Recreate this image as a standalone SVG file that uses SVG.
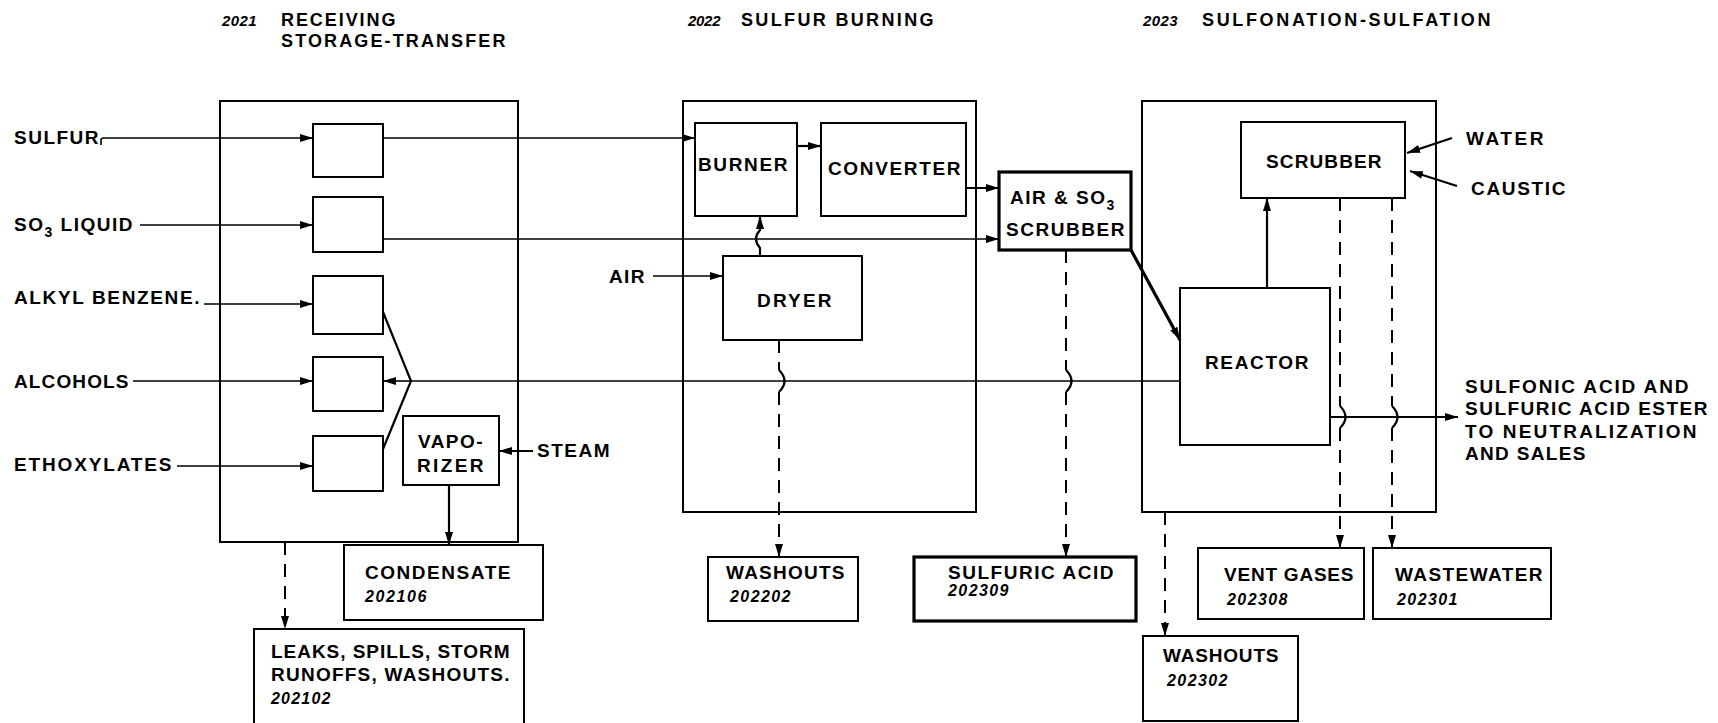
<svg xmlns="http://www.w3.org/2000/svg" width="1718" height="723" viewBox="0 0 1718 723">
<style>
text{font-family:"Liberation Sans",Arial,sans-serif;font-weight:bold;font-size:19px;fill:#000;letter-spacing:1.5px}
.ttl{font-size:18px}
.num{font-style:italic;font-size:16px;letter-spacing:0.5px}
.tnum{font-style:italic;font-size:15px;letter-spacing:0.5px}
.box{fill:none;stroke:#000;stroke-width:2}
.thick{fill:none;stroke:#000;stroke-width:3.2}
.ln{fill:none;stroke:#000;stroke-width:1.6}
.lnb{fill:none;stroke:#000;stroke-width:2.2}
.dash{fill:none;stroke:#000;stroke-width:2;stroke-dasharray:13 9}
</style>
<defs>
<marker id="ah" viewBox="0 0 13 8" refX="13" refY="4" markerWidth="13" markerHeight="8" orient="auto" markerUnits="userSpaceOnUse"><path d="M0,0 L13,4 L0,8 z" fill="#000"/></marker>
</defs>
<rect width="1718" height="723" fill="#fff"/>

<g id="titles">
<text class="tnum" x="222" y="26" textLength="35">2021</text>
<text class="ttl" x="281" y="26" textLength="116">RECEIVING</text>
<text class="ttl" x="281" y="47" textLength="226">STORAGE-TRANSFER</text>
<text class="tnum" x="688" y="26" textLength="33">2022</text>
<text class="ttl" x="741" y="26" textLength="194">SULFUR BURNING</text>
<text class="tnum" x="1143" y="26" textLength="35">2023</text>
<text class="ttl" x="1202" y="26" textLength="290">SULFONATION-SULFATION</text>
</g>

<g id="area2021"><rect class="box" x="220" y="101" width="298" height="441"/></g>
<g id="area2022"><rect class="box" x="683" y="101" width="293" height="411"/></g>
<g id="area2023"><rect class="box" x="1142" y="101" width="294" height="411"/></g>

<g id="tank1"><rect class="box" x="313" y="124" width="70" height="53"/></g>
<g id="tank2"><rect class="box" x="313" y="197" width="70" height="55"/></g>
<g id="tank3"><rect class="box" x="313" y="276" width="70" height="58"/></g>
<g id="tank4"><rect class="box" x="313" y="357" width="70" height="54"/></g>
<g id="tank5"><rect class="box" x="313" y="436" width="70" height="55"/></g>

<g id="inputs">
<text x="14" y="144" textLength="86">SULFUR</text>
<text x="14" y="231">SO<tspan dy="6" font-size="14">3</tspan><tspan dy="-6"> LIQUID</tspan></text>
<text x="14" y="304" textLength="187">ALKYL BENZENE.</text>
<text x="14" y="388" textLength="116">ALCOHOLS</text>
<text x="14" y="471" textLength="159">ETHOXYLATES</text>
<text x="537" y="457" textLength="74">STEAM</text>
<text x="609" y="283" textLength="37">AIR</text>
<text x="1466" y="145" textLength="79">WATER</text>
<text x="1471" y="195" textLength="96">CAUSTIC</text>
</g>

<g id="vaporizer">
<rect class="box" x="403" y="416" width="96" height="69"/>
<text x="451" y="448" text-anchor="middle" textLength="66">VAPO-</text>
<text x="451" y="472" text-anchor="middle" textLength="68">RIZER</text>
</g>

<g id="condensate">
<rect class="box" x="344" y="545" width="199" height="75"/>
<text x="365" y="579" textLength="147">CONDENSATE</text>
<text class="num" x="365" y="602" textLength="62">202106</text>
</g>

<g id="leaks">
<path class="box" d="M254,724 V629 H524 V724"/>
<text x="271" y="658" textLength="240">LEAKS, SPILLS, STORM</text>
<text x="271" y="681" textLength="240">RUNOFFS, WASHOUTS.</text>
<text class="num" x="271" y="704" textLength="60">202102</text>
</g>

<g id="burner">
<rect class="box" x="695" y="123" width="102" height="93"/>
<text x="698" y="171" textLength="91">BURNER</text>
</g>
<g id="converter">
<rect class="box" x="821" y="123" width="145" height="93"/>
<text x="828" y="175" textLength="134">CONVERTER</text>
</g>
<g id="airso3scrubber">
<rect class="thick" x="999" y="172" width="132" height="78"/>
<text x="1010" y="204" letter-spacing="1">AIR &amp; SO<tspan dy="6" font-size="14">3</tspan></text>
<text x="1006" y="236" textLength="120">SCRUBBER</text>
</g>
<g id="dryer">
<rect class="box" x="723" y="256" width="139" height="84"/>
<text x="757" y="307" textLength="76">DRYER</text>
</g>
<g id="washouts2022">
<rect class="box" x="708" y="557" width="150" height="64"/>
<text x="726" y="579" textLength="120">WASHOUTS</text>
<text class="num" x="730" y="602" textLength="61">202202</text>
</g>
<g id="sulfuricacid">
<rect class="thick" x="914" y="557" width="222" height="64"/>
<text x="948" y="579" textLength="167">SULFURIC ACID</text>
<text class="num" x="948" y="596" textLength="61">202309</text>
</g>

<g id="scrubber">
<rect class="box" x="1241" y="122" width="164" height="76"/>
<text x="1266" y="168" textLength="117">SCRUBBER</text>
</g>
<g id="reactor">
<rect class="box" x="1180" y="288" width="150" height="157"/>
<text x="1205" y="369" textLength="105">REACTOR</text>
</g>
<g id="product">
<text x="1465" y="393" textLength="225">SULFONIC ACID AND</text>
<text x="1465" y="415" textLength="244">SULFURIC ACID ESTER</text>
<text x="1465" y="438" textLength="233">TO NEUTRALIZATION</text>
<text x="1465" y="460" textLength="122">AND SALES</text>
</g>
<g id="ventgases">
<rect class="box" x="1198" y="548" width="166" height="71"/>
<text x="1224" y="581" textLength="131">VENT GASES</text>
<text class="num" x="1227" y="605" textLength="61">202308</text>
</g>
<g id="wastewater">
<rect class="box" x="1373" y="548" width="178" height="71"/>
<text x="1395" y="581" textLength="149">WASTEWATER</text>
<text class="num" x="1397" y="605" textLength="61">202301</text>
</g>
<g id="washouts2023">
<rect class="box" x="1143" y="636" width="155" height="85"/>
<text x="1163" y="662" textLength="117">WASHOUTS</text>
<text class="num" x="1167" y="686" textLength="61">202302</text>
</g>

<g id="connectors">
<path class="ln" d="M101,145 V140 Q101,138 104,138 H313" marker-end="url(#ah)"/>
<path class="ln" d="M140,225 H313" marker-end="url(#ah)"/>
<path class="ln" d="M204,304 H313" marker-end="url(#ah)"/>
<path class="ln" d="M133,381 H313" marker-end="url(#ah)"/>
<path class="ln" d="M177,466 H313" marker-end="url(#ah)"/>
<path class="ln" d="M383,138 H695" marker-end="url(#ah)"/>
<path class="ln" d="M383,239 H999" marker-end="url(#ah)"/>
<path class="lnb" d="M383,312 L411,381 L383,449"/>
<path class="ln" d="M411,381 H383" marker-end="url(#ah)"/>
<path class="ln" d="M411,381 H1180"/>
<path class="lnb" d="M533,451 H499" marker-end="url(#ah)"/>
<path class="lnb" d="M449,485 V545" marker-end="url(#ah)"/>
<path class="dash" d="M285,542 V629" marker-end="url(#ah)"/>
<path class="lnb" d="M797,146 H821" marker-end="url(#ah)"/>
<path class="lnb" d="M966,188 H999" marker-end="url(#ah)"/>
<path class="ln" d="M653,276 H723" marker-end="url(#ah)"/>
<path class="lnb" d="M760,256 V248 Q752,239 760,230 V216" marker-end="url(#ah)"/>
<path class="dash" d="M779,340 V370"/>
<path class="lnb" d="M779,370 Q790,381 779,392"/>
<path class="dash" d="M779,392 V557" marker-end="url(#ah)"/>
<path class="dash" d="M1066,250 V370"/>
<path class="lnb" d="M1066,370 Q1077,381 1066,392"/>
<path class="dash" d="M1066,392 V557" marker-end="url(#ah)"/>
<path class="thick" d="M1131,250 L1180,340" marker-end="url(#ah)"/>
<path class="lnb" d="M1267,288 V198" marker-end="url(#ah)"/>
<path class="lnb" d="M1452,138 L1407,153" marker-end="url(#ah)"/>
<path class="lnb" d="M1457,186 L1410,171" marker-end="url(#ah)"/>
<path class="lnb" d="M1330,417 H1458" marker-end="url(#ah)"/>
<path class="dash" d="M1340,198 V406"/>
<path class="lnb" d="M1340,406 Q1351,417 1340,428"/>
<path class="dash" d="M1340,428 V548" marker-end="url(#ah)"/>
<path class="dash" d="M1392,198 V406"/>
<path class="lnb" d="M1392,406 Q1403,417 1392,428"/>
<path class="dash" d="M1392,428 V548" marker-end="url(#ah)"/>
<path class="dash" d="M1165,512 V636" marker-end="url(#ah)"/>
</g>
</svg>
